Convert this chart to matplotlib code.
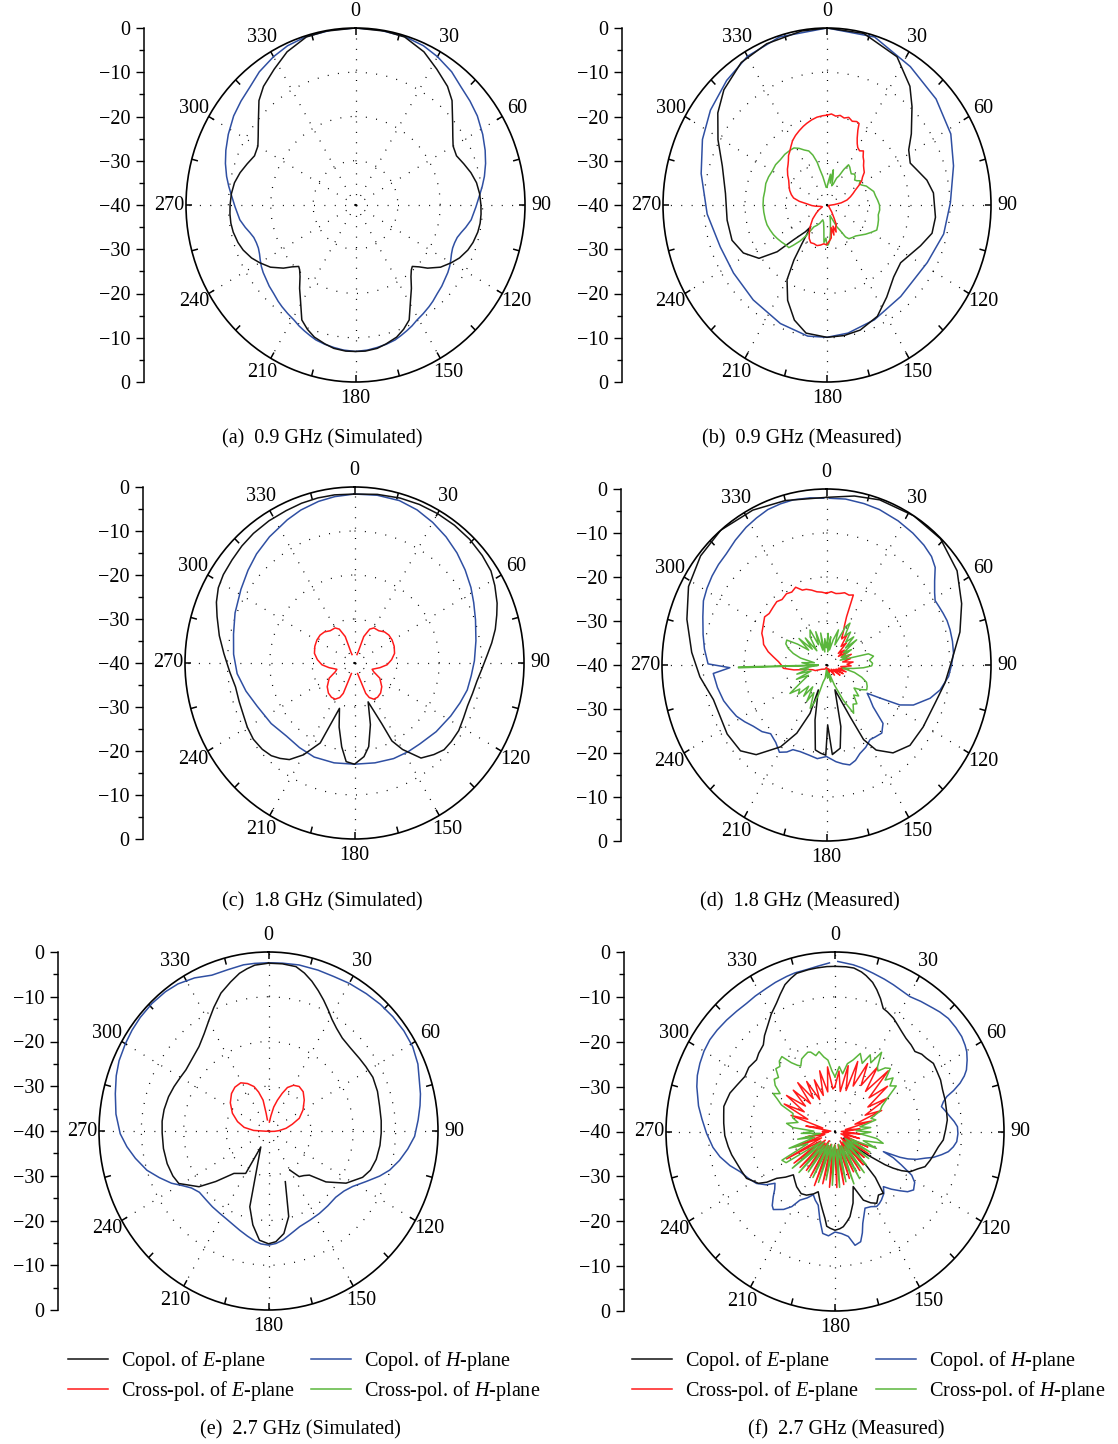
import numpy as np
import matplotlib.pyplot as plt
from matplotlib.lines import Line2D
from matplotlib.ticker import MultipleLocator, FuncFormatter

plt.rcParams['font.family'] = ['Liberation Serif', 'DejaVu Serif']
plt.rcParams['mathtext.fontset'] = 'custom'
plt.rcParams['mathtext.rm'] = 'Liberation Serif'
plt.rcParams['mathtext.it'] = 'Liberation Serif:italic'

BLACK = '#111111'
BLUE = '#2f4fa2'
RED = '#ff1a1a'
GREEN = '#5ab63c'
nan = float('nan')

# ---- data: (angle in degrees, level in dB) ----
# (a) 0.9 GHz simulated
a_e_copol = [(0, 0.0), (10, -0.1), (17, -0.3), (25, -1.8), (32, -3.8), (39, -5.5), (44, -7.2), (51, -10.5),
             (56, -12.3), (60, -13.4), (65, -13.7), (70, -12.8), (75, -11.8), (80, -11.0), (85, -10.6),
             (90, -10.4), (94, -10.3), (98, -10.3), (102, -10.5), (107, -11.0), (111, -11.6), (116, -12.7),
             (120, -13.9), (125, -15.5), (130, -17.8), (133, -19.5), (136, -20.7), (138, -20.3), (141, -19.2),
             (145, -17.0), (149, -14.8), (154, -11.1), (158, -9.7), (162, -8.6), (167, -7.8), (171, -7.2),
             (176, -6.9), (180, -6.9), (184, -6.9), (189, -7.2), (193, -7.8), (198, -8.6), (202, -9.7),
             (206, -11.1), (211, -14.8), (215, -17.0), (219, -19.2), (222, -20.3), (224, -20.7), (227, -19.5),
             (230, -17.8), (235, -15.5), (240, -13.9), (244, -12.7), (249, -11.6), (253, -11.0), (258, -10.5),
             (262, -10.3), (266, -10.3), (270, -10.4), (275, -10.6), (280, -11.0), (285, -11.8), (290, -12.8),
             (295, -13.7), (300, -13.4), (304, -12.3), (309, -10.5), (316, -7.2), (321, -5.5), (328, -3.8),
             (335, -1.8), (343, -0.3), (350, -0.1), (360, 0.0)]
a_h_copol = [(0, 0.0), (8, -0.05), (17, -0.2), (24, -0.6), (30, -1.3), (37, -2.3), (43, -3.5), (49, -4.2),
             (55, -4.9), (62, -6.0), (68, -7.0), (73, -7.9), (78, -8.9), (82, -9.8), (86, -10.7), (91, -11.6),
             (97, -12.5), (101, -13.5), (104, -14.3), (107, -14.9), (110, -15.1), (113, -15.1), (116, -14.8),
             (119, -14.3), (122, -13.8), (125, -13.4), (129, -13.0), (132, -12.6), (136, -12.2), (140, -11.6),
             (143, -11.2), (147, -10.7), (151, -10.2), (154, -9.6), (157, -9.1), (160, -8.6), (163, -8.1),
             (167, -7.7), (171, -7.4), (175, -7.1), (180, -6.9), (185, -7.1), (189, -7.4), (193, -7.7),
             (197, -8.1), (200, -8.6), (203, -9.1), (206, -9.6), (209, -10.2), (213, -10.7), (217, -11.2),
             (220, -11.6), (224, -12.2), (228, -12.6), (231, -13.0), (235, -13.4), (238, -13.8), (241, -14.3),
             (244, -14.8), (247, -15.1), (250, -15.1), (253, -14.9), (256, -14.3), (259, -13.5), (263, -12.5),
             (269, -11.6), (274, -10.7), (278, -9.8), (282, -8.9), (287, -7.9), (292, -7.0), (298, -6.0),
             (305, -4.9), (311, -4.2), (317, -3.5), (323, -2.3), (330, -1.3), (336, -0.6), (343, -0.2),
             (352, -0.05), (360, 0.0)]

# (b) 0.9 GHz measured
b_e_copol = [(0, 0.0), (13, -0.2), (27, -2.4), (37, -6.4), (43, -9.6), (52, -13.9), (58, -16.5), (65, -17.6),
             (70, -16.7), (77, -15.0), (84, -13.9), (96, -13.4), (104, -13.6), (112, -15.4), (120, -17.0),
             (126, -17.8), (135, -17.0), (145, -14.6), (154, -12.0), (164, -10.6), (172, -10.2), (180, -10.1),
             (190, -10.6), (197, -12.8), (204, -16.4), (210, -20.5), (213, -25.2), (215, -29.4), (219, -33.7),
             (221, -32.0), (226, -28.7), (229, -23.9), (234, -19.5), (242, -16.9), (251, -15.5), (262, -15.4),
             (276, -15.1), (289, -13.0), (299, -9.6), (308, -6.2), (316, -3.8), (327, -1.6), (338, -0.7),
             (351, -0.2), (360, 0.0)]
b_h_copol = [(0, 0.0), (17, -0.3), (33, -2.7), (48, -4.2), (62, -5.8), (74, -7.9), (89, -9.9), (103, -10.8),
             (118, -12.3), (128, -12.9), (139, -12.6), (156, -11.6), (170, -10.6), (180, -10.1), (189, -10.0),
             (203, -10.9), (220, -12.0), (236, -12.5), (250, -12.3), (266, -10.7), (283, -8.5), (296, -6.2),
             (307, -4.4), (319, -2.7), (330, -1.2), (343, -0.3), (360, 0.0)]
b_e_xpol = [(0, -19.7), (3, -19.4), (6, -19.8), (9, -19.5), (12, -19.9), (15, -19.5), (18, -20.1), (21, -19.8),
            (23, -20.0), (24, -21.5), (26, -23.2), (28, -24.3), (30, -25.0), (33, -25.4), (36, -24.9), (39, -26.0),
            (42, -26.6), (45, -27.4), (48, -27.9), (51, -28.3), (54, -29.3), (57, -29.9), (60, -30.9), (64, -32.3),
            (68, -33.2), (72, -34.0), (77, -35.0), (82, -36.5), (87, -38.2), (95, -39.3), (110, -39.6),
            (125, -39.5), (138, -39.0), (144, -38.0), (147, -37.5), (150, -36.5), (153, -35.0), (157, -34.6),
            (160, -33.5), (163, -35.0), (166, -33.0), (169, -34.8), (172, -32.5), (175, -32.0), (178, -31.5),
            (181, -31.0), (185, -31.2), (190, -30.8), (195, -30.5), (200, -30.7), (205, -30.6), (210, -31.3),
            (215, -32.5), (220, -33.6), (228, -35.3), (235, -36.8), (241, -37.7), (250, -38.8), (258, -38.5),
            (264, -37.3), (268, -36.3), (273, -35.1), (277, -33.2), (281, -31.7), (285, -31.0), (290, -30.3),
            (295, -29.8), (301, -29.1), (305, -28.3), (310, -27.4), (314, -26.8), (317, -26.2), (320, -25.4),
            (323, -24.9), (326, -24.2), (330, -23.2), (334, -22.5), (338, -21.9), (342, -21.3), (345, -20.9),
            (349, -20.4), (353, -20.0), (357, -19.8), (360, -19.7)]
b_h_xpol = [(0, -36.0), (4, -34.5), (7, -33.0), (9, -35.0), (11, -31.9), (13, -33.5), (15, -35.5), (18, -35.0),
            (21, -33.5), (24, -32.8), (27, -31.0), (30, -29.5), (33, -29.8), (36, -30.3), (40, -30.8), (44, -30.3),
            (47, -30.6), (50, -31.2), (53, -30.9), (56, -30.2), (59, -30.8), (62, -30.4), (66, -29.5), (70, -29.0),
            (75, -28.2), (80, -28.0), (85, -27.6), (90, -27.2), (95, -27.1), (100, -27.3), (105, -27.0),
            (110, -26.8), (115, -26.6), (120, -27.6), (125, -28.5), (130, -29.4), (135, -30.1), (140, -30.4),
            (145, -30.7), (148, -31.5), (151, -33.5), (154, -34.5), (158, -36.5), (163, -37.5), (168, -36.0),
            (172, -34.0), (175, -32.0), (178, -31.0), (180, -30.9), (182, -32.5), (185, -31.5), (188, -34.5),
            (192, -36.0), (197, -36.5), (203, -35.5), (208, -34.8), (213, -34.1), (216, -31.5), (219, -29.5),
            (222, -27.8), (224, -26.6), (228, -26.5), (233, -26.1), (238, -25.7), (243, -25.3), (248, -25.0),
            (253, -24.7), (258, -24.6), (264, -24.5), (270, -24.4), (276, -24.4), (282, -24.5), (288, -24.3),
            (294, -24.4), (300, -24.6), (306, -24.5), (312, -24.7), (318, -24.6), (324, -24.7), (328, -24.8),
            (332, -25.5), (336, -26.4), (340, -27.0), (343, -28.2), (346, -30.0), (348, -31.9), (351, -33.5),
            (354, -35.0), (357, -36.0), (360, -36.0)]

# (c) 1.8 GHz simulated
c_e_copol = [(0, -1.6), (8, -1.3), (16, -1.0), (23, -0.85), (30, -0.8), (37, -0.8), (44, -0.9), (51, -1.2),
             (57, -1.6), (62, -2.5), (68, -3.7), (72, -4.7), (77, -5.9), (82, -7.3), (87, -8.7), (92, -9.8),
             (98, -10.8), (104, -11.3), (110, -11.6), (116, -11.4), (122, -11.0), (128, -11.0), (133, -11.1),
             (138, -12.0), (144, -13.3), (150, -17.3), (153.5, -20.2), (155, -24.8), (160, -30.6), (165, -25.5),
             (170, -20.7), (174, -18.6), (180, -17.0), (185, -17.5), (189, -20.7), (194, -25.0), (199, -29.1),
             (204, -20.1), (210, -15.9), (215, -13.2), (219, -12.1), (223, -11.2), (228, -10.7), (234, -10.5),
             (240, -10.8), (245, -11.2), (252, -11.4), (259, -11.4), (266, -10.5), (274, -9.1), (281, -7.5),
             (288, -5.9), (293, -4.6), (298, -3.6), (303, -3.1), (309, -2.8), (315, -2.4), (321, -2.1),
             (328, -1.9), (335, -1.8), (341, -1.6), (347, -1.5), (353, -1.5), (360, -1.6)]
c_h_copol = [(0, -1.6), (8, -1.5), (16, -1.6), (23, -2.2), (30, -3.1), (37, -4.1), (44, -5.2), (51, -6.4),
             (58, -7.6), (64, -8.7), (71, -9.8), (80, -10.9), (89, -11.7), (96, -12.3), (103, -12.7),
             (110, -13.5), (118, -14.3), (129, -15.2), (140, -16.0), (148, -16.2), (157, -16.4), (168, -16.8),
             (180, -17.0), (192, -16.8), (204, -16.6), (214, -16.8), (224, -16.9), (235, -16.0), (247, -15.0),
             (256, -13.6), (265, -12.2), (274, -11.4), (283, -10.7), (292, -9.6), (302, -8.4), (310, -7.2),
             (317, -6.1), (325, -5.0), (334, -3.8), (340, -3.0), (347, -2.3), (353, -1.9), (360, -1.6)]
c_e_xpol = [(0, nan), (17, -38.0), (18.7, -37.5), (20, -33.6), (25, -31.5), (30, -30.8), (38, -30.7),
            (45, -30.0), (52, -29.7), (59.5, -29.7), (68, -29.9), (77, -30.3), (85, -31.2), (93, -32.3),
            (100, -33.9), (109, -35.6), (114, -35.0), (120, -33.1), (130, -31.6), (138, -30.8), (145, -30.5),
            (151, -30.6), (156, -31.4), (159, -32.6), (161.6, -36.7), (163, -37.5), (180, nan), (197, -37.5),
            (198.4, -36.7), (201, -32.6), (204, -31.4), (209, -30.6), (215, -30.5), (222, -30.8), (230, -31.6),
            (240, -33.1), (246, -35.0), (251, -35.6), (260, -33.9), (267, -32.3), (275, -31.2), (283, -30.3),
            (292, -29.9), (300.5, -29.7), (308, -29.7), (315, -30.0), (322, -30.7), (330, -30.8), (335, -31.5),
            (340, -33.6), (341.3, -37.5), (343, -38.0), (360, nan)]

# (d) 1.8 GHz measured
d_e_copol = [(0, -1.9), (10, -1.0), (19, -0.3), (32, 0.0), (44, -0.1), (56, -1.7), (67, -4.3), (77, -6.7),
             (88, -9.5), (98, -10.9), (108, -12.2), (121, -12.6), (132, -12.7), (141, -14.3), (148, -17.2),
             (152, -20.8), (154, -26.9), (160, -34.0), (166, -25.6), (170, -20.8), (176, -19.6), (178.8, -26.4),
             (180.5, -19.5), (184, -19.9), (188, -20.5), (192.6, -27.2), (199.4, -34.0), (200, -28.3),
             (205, -22.9), (211, -18.3), (220, -13.4), (227, -11.4), (237, -11.2), (254, -11.4), (265, -9.1),
             (275, -7.1), (287, -4.5), (298, -2.0), (309, -0.6), (320, 0.0), (333, -0.5), (345, -1.3), (360, -1.9)]
d_h_copol = [(1, -2.1), (7, -2.0), (14, -2.2), (20, -2.4), (28, -2.9), (35, -3.4), (41, -3.9), (46, -4.5),
             (50, -5.5), (54, -7.5), (58, -9.0), (61, -9.8), (64, -9.6), (67.5, -9.3), (71, -9.0), (75, -8.9),
             (80, -8.9), (85, -9.0), (90, -9.6), (95, -10.2), (101.6, -11.8), (106.7, -13.7), (110, -15.5),
             (113.3, -17.0), (117, -20.0), (120, -25.0), (123, -28.2), (126, -27.0), (130, -25.2), (134, -20.9),
             (139, -19.5), (144, -19.8), (148, -20.0), (153, -19.0), (158, -18.3), (162, -17.2), (166, -16.6),
             (170, -17.2), (174, -17.9), (180, -19.2), (186, -18.6), (192, -19.1), (198, -19.3), (203, -19.1),
             (206, -18.0), (210, -17.1), (215, -18.5), (221, -19.3), (226, -18.2), (232, -17.4), (237, -16.3),
             (242, -15.2), (247, -14.5), (252, -13.7), (259, -13.0), (266, -12.4), (268.5, -16.5), (270.5, -11.2),
             (277, -10.1), (283, -9.2), (290, -8.0), (296, -6.7), (301, -6.1), (306, -5.6), (311, -5.2),
             (316, -4.9), (322, -4.0), (328, -3.1), (333, -2.5), (338, -1.9), (343, -1.7), (348, -1.6),
             (354, -1.8), (359, -2.1)]
d_e_xpol = [(0, -23.7), (4, -23.3), (8, -23.6), (11.4, -23.4), (15, -23.0), (19, -23.2), (22.3, -22.8),
            (24, -28.0), (26, -30.0), (28.4, -31.4), (32, -33.0), (36, -31.5), (40, -34.5), (44, -33.0),
            (47.5, -36.1), (52, -34.5), (56, -36.5), (60, -34.0), (64, -36.0), (68, -33.5), (72, -35.5),
            (76, -34.0), (80, -36.0), (84, -33.5), (88, -35.0), (92, -34.0), (96, -36.5), (100, -34.5),
            (104, -37.0), (108, -35.0), (112, -37.5), (116, -35.5), (120, -38.0), (125, -36.0), (130, -38.5),
            (140, -37.0), (150, -39.0), (160, -38.0), (180, -39.5), (200, -39.0), (230, -38.5), (245, -37.0),
            (252, -36.5), (258, -35.1), (262, -32.0), (265.9, -29.5), (270, -29.0), (273.7, -28.3), (278, -27.0),
            (282, -25.5), (287, -24.0), (291, -23.5), (294.6, -22.7), (300, -22.2), (306, -21.4), (310, -21.8),
            (315.7, -21.5), (320, -21.2), (324, -21.6), (329, -21.1), (333, -21.4), (337, -20.8), (341, -22.0),
            (344, -22.1), (348, -22.6), (352, -23.2), (356, -23.4), (360, -23.7)]
d_h_xpol = [(0, -36.0), (3, -32.8), (6, -37.0), (9, -33.5), (12, -36.5), (16, -34.0), (20, -31.5), (24, -35.0),
            (28, -30.2), (31, -28.9), (34, -32.0), (38, -30.5), (42, -33.0), (46, -30.8), (50, -34.0),
            (52, -30.7), (56, -35.0), (60, -33.0), (64, -36.0), (68, -34.0), (72, -36.5), (76, -29.5),
            (80, -28.4), (84, -29.5), (88, -28.8), (91, -29.0), (94, -31.0), (97, -33.5), (100, -36.0),
            (104, -33.0), (108, -31.0), (112, -29.5), (116, -29.0), (120, -28.7), (124, -30.0), (128, -31.5),
            (132, -29.5), (136, -30.5), (140, -28.5), (144, -29.0), (149, -27.2), (153, -31.0), (157, -35.0),
            (161, -38.0), (165, -36.0), (170, -38.5), (175, -37.0), (180, -39.0), (186, -37.0), (192, -36.0),
            (196, -33.0), (199, -31.0), (202, -29.4), (206, -33.0), (210, -30.5), (214, -34.0), (218, -31.0),
            (222, -33.5), (226, -30.5), (230, -31.5), (234, -29.0), (238, -33.0), (242, -35.0), (246, -32.0),
            (250, -36.0), (254, -32.5), (258, -35.5), (262, -33.5), (266, -37.0), (267.8, -38.0), (268.3, -18.6),
            (268.8, -18.6), (269.5, -38.0), (271, -36.0), (275, -34.0), (280, -37.0), (284, -33.5), (288, -31.5),
            (292, -30.0), (296, -29.0), (300.4, -28.8), (304, -31.5), (308, -34.5), (312, -31.0), (316, -35.0),
            (320, -32.0), (324, -36.0), (328, -32.5), (333.3, -31.1), (337, -35.0), (341, -32.0), (345, -36.5),
            (349, -32.6), (352, -37.0), (356, -34.0), (360, -36.0)]

# (e) 2.7 GHz simulated
e_e_copol = [(0, -2.5), (5, -2.5), (10, -2.7), (13.5, -3.7), (17, -5.0), (20.5, -6.5), (24, -8.0), (27.5, -9.5),
             (31, -10.9), (35, -12.0), (40, -12.9), (46, -13.2), (53, -13.1), (58, -12.9), (64, -12.6),
             (71, -12.8), (78, -13.2), (85, -13.3), (91, -13.4), (97, -13.5), (104, -13.8), (110, -14.4),
             (115, -15.5), (122.5, -18.3), (130, -22.3), (135.6, -26.2), (140, -27.0), (144.6, -27.5),
             (150, -29.9), (155, nan), (160.7, -28.0), (166, -20.3), (171, -16.8), (176, -15.2), (180, -14.8),
             (185, -15.5), (190, -18.7), (194.6, -22.5), (207, -36.0), (209.6, -29.1), (220.7, -27.5),
             (227.8, -23.2), (232.8, -19.4), (241, -15.8), (246, -15.3), (253, -15.0), (261, -14.9), (269, -14.9),
             (275, -14.8), (281, -14.9), (288, -15.2), (294, -15.6), (300, -16.0), (305, -16.2), (312, -15.8),
             (319, -15.0), (325, -13.5), (330.5, -11.5), (335, -9.5), (340, -7.2), (345, -5.5), (349, -4.1),
             (352, -3.4), (355, -2.8), (360, -2.5)]
e_h_copol = [(0, -2.4), (5, -2.35), (11, -2.2), (18, -2.2), (24, -2.2), (30, -1.9), (37, -1.6), (43, -1.3),
             (49, -1.1), (55, -1.0), (61, -1.1), (67, -1.7), (72, -2.6), (77, -3.2), (81, -3.8), (86, -4.6),
             (92, -5.5), (97, -6.9), (102, -8.4), (107, -10.1), (111, -11.9), (116, -14.3), (122, -16.6),
             (127, -17.7), (133, -18.3), (140, -18.2), (147, -18.0), (154, -17.8), (161, -17.4), (165, -16.8),
             (172, -15.4), (176, -14.8), (180, -14.5), (184, -14.7), (187, -15.1), (192, -16.0), (197, -16.8),
             (202, -17.5), (207, -18.0), (212, -18.3), (218, -18.5), (224, -18.7), (230, -18.7), (235, -17.8),
             (239, -16.3), (243, -14.3), (248, -12.2), (253, -10.0), (259, -8.0), (264, -6.4), (269, -5.0),
             (276, -3.8), (283, -2.9), (289, -2.0), (294, -1.4), (300, -1.0), (305, -0.7), (310, -0.5),
             (316, -0.4), (322, -0.5), (327, -0.8), (333, -1.6), (339, -2.7), (345, -2.7), (351, -2.4),
             (355, -2.4), (360, -2.4)]
e_e_xpol = [(0, nan), (6, -38.0), (9.5, -36.6), (13, -34.5), (17, -32.8), (21, -31.0), (24.7, -29.3),
            (30, -28.2), (36, -27.7), (43, -28.0), (50.7, -29.1), (60, -30.6), (68.6, -32.2), (75, -34.2),
            (81.7, -35.8), (88, -37.5), (93, -38.6), (100, -39.5), (180, -40.0), (260, -39.8), (265, -39.4),
            (272, -36.5), (278, -34.2), (286, -32.4), (295, -30.6), (305, -29.0), (313.8, -27.9), (321, -27.4),
            (328.7, -27.4), (335, -28.3), (341, -29.5), (345, -31.0), (349.5, -33.0), (352, -36.0),
            (354, -37.5), (360, nan)]

# (f) 2.7 GHz measured
f_e_copol = [(0, -3.2), (4, -3.2), (7, -3.3), (10, -3.9), (12, -4.5), (15, -5.6), (17.4, -6.9), (20, -8.5),
             (22.6, -10.3), (25, -10.6), (28.7, -11.2), (32, -12.0), (35.3, -12.7), (39, -13.3), (43, -13.6),
             (46.7, -14.0), (50, -13.2), (53, -12.9), (56.9, -12.2), (61, -12.4), (65.3, -12.5), (70, -12.9),
             (74.9, -13.0), (80, -13.2), (84.5, -13.3), (89, -13.8), (94.2, -14.3), (98, -15.3), (102.7, -16.1),
             (106, -16.6), (110.2, -17.3), (113, -18.7), (116.8, -20.1), (119, -22.0), (120.7, -24.0),
             (122, -26.0), (122.8, -28.2), (124, -30.5), (124.8, -32.8), (128, -37.5), (133, -33.0), (137, -26.0),
             (140.3, -22.1), (144, -22.5), (148.3, -21.2), (152, -22.0), (156.3, -23.3), (160.7, -27.0),
             (165, -23.5), (169.4, -20.7), (172, -19.7), (174.7, -18.7), (177, -18.3), (180, -18.0), (183, -18.4),
             (185.3, -18.8), (187, -20.5), (189.5, -22.2), (193, -24.2), (196.5, -26.0), (200, -25.2),
             (205.4, -24.3), (210, -24.0), (216.4, -24.7), (221, -25.5), (225.6, -26.2), (229, -24.5),
             (232.9, -22.7), (235, -20.3), (237.5, -18.5), (240, -17.8), (243.5, -16.6), (248, -16.2),
             (253.1, -15.7), (258, -15.0), (262.4, -14.5), (268, -13.9), (274, -13.6), (278, -13.4), (282, -13.1),
             (285, -13.4), (289, -13.7), (294, -14.6), (299.9, -15.4), (305, -15.1), (310.7, -15.5), (314, -14.9),
             (318.7, -14.3), (322, -12.9), (326.8, -11.2), (330, -9.8), (334.2, -8.2), (337, -6.8), (340.1, -5.2),
             (343, -4.3), (345.6, -3.6), (350, -3.4), (353.2, -3.3), (357, -3.2), (360, -3.2)]
f_h_copol = [(1, -2.1), (6.6, -2.6), (10, -3.0), (14.4, -3.6), (19, -4.1), (22.9, -4.5), (27, -4.9), (30.6, -5.1),
             (35, -4.6), (40.3, -4.0), (43, -3.6), (46.8, -3.2), (51, -3.2), (54.8, -3.3), (58, -3.7), (60.3, -4.1),
             (63, -4.9), (66.2, -6.0), (68, -7.0), (70, -8.5), (72, -10.5), (73.6, -12.4), (75.5, -13.5),
             (77.6, -14.2), (80, -13.5), (83, -12.6), (85.5, -11.7), (87.9, -11.0), (91, -10.9), (94.5, -11.1),
             (97, -11.8), (99.5, -12.8), (101.5, -14.2), (103.9, -16.0), (105.5, -17.8), (107.8, -19.7),
             (109.5, -21.7), (110.5, -23.6), (111.4, -27.7), (113, -25.0), (115.4, -22.6), (118.2, -19.4),
             (121, -18.0), (125, -17.3), (128, -18.2), (130.6, -19.7), (134, -21.5), (137, -23.2), (140, -22.0),
             (144.2, -21.2), (147, -20.8), (149.5, -20.6), (153, -21.2), (157.4, -21.5), (160, -20.0),
             (162.2, -18.5), (164, -16.5), (166.1, -14.7), (169.4, -14.2), (172.3, -16.4), (176.1, -17.2),
             (180, -17.6), (183.8, -16.7), (187.3, -17.1), (190.2, -19.9), (193.6, -23.1), (197, -24.0),
             (200, -25.0), (204, -23.8), (208.5, -22.6), (211.4, -20.4), (215, -18.8), (220, -17.3), (222, -17.8),
             (225.2, -19.4), (228, -20.8), (230.9, -21.7), (234, -19.8), (238.1, -18.1), (243, -17.0),
             (248.3, -15.8), (253, -14.0), (258.3, -12.2), (263, -10.9), (269.2, -9.6), (275, -8.4), (280, -7.2),
             (287, -5.8), (291, -5.1), (295.4, -4.6), (300, -4.2), (304.6, -4.0), (309, -4.1), (314.1, -4.3),
             (319, -4.5), (323.8, -4.6), (328, -4.4), (333, -4.2), (337, -3.9), (341.7, -3.6), (345, -3.4),
             (349.5, -3.3), (354, -2.9), (358, -2.4)]
f_e_xpol = [(0, -30), (4, -26.5), (8, -31), (12, -25), (16, -30.5), (19, -23.5), (23, -29), (27, -23),
            (31, -28), (35, -22.5), (39, -28.5), (43, -21.5), (47, -29), (51, -24), (55, -30.5), (59, -25.5),
            (63, -32), (67, -28), (71, -35), (75, -31), (80, -37.5), (85, -34), (90, -38.5), (95, -33.5),
            (100, -38), (105, -34), (110, -38.5), (114, -31.5), (118, -37.5), (122, -30.5), (126, -37),
            (130, -31), (134, -38), (138, -30), (142, -37), (146, -29.5), (150, -37.5), (154, -30), (158, -36.5),
            (162, -29), (166, -37), (170, -28), (174, -36), (178, -27.5), (182, -37), (186, -27.5), (190, -36),
            (194, -28), (198, -37), (202, -27), (206, -36.5), (210, -28.5), (214, -37.5), (218, -29),
            (222, -36.5), (226, -28.5), (230, -37), (234, -28), (238, -36), (242, -27), (246, -36.5), (250, -30),
            (255, -37.5), (260, -33), (265, -38.5), (270, -37), (275, -39), (280, -33), (285, -37), (289, -29),
            (293, -33), (297, -26.5), (301, -31.5), (305, -26), (309, -31), (313, -26.5), (317, -31.5), (321, -26),
            (325, -31), (329, -27), (333, -32), (337, -27.5), (341, -31.5), (345, -26), (349, -31), (353, -25.5),
            (357, -30.5), (360, -30)]
f_h_xpol = [(0, -27.8), (4, -25.5), (8, -27), (11, -24.6), (15, -23.5), (19, -21.6), (23, -23.5), (26, -21),
            (29, -22.5), (32, -19.2), (35, -22.5), (37, -23.1), (40, -21.5), (43, -20.8), (46, -23.5),
            (49, -21.8), (52, -23.5), (55, -22.3), (59, -25.5), (63, -27.5), (67, -28.5), (71, -31), (75, -30),
            (80, -34), (84, -31.5), (88, -35), (91, -31.5), (95, -34), (99, -30), (103, -28.3), (107, -33),
            (111, -29.5), (115, -36), (119, -30.5), (123, -37), (127, -30), (131, -36.5), (135, -29.5),
            (139, -37), (143, -28.5), (147, -36), (151, -28), (155, -36.5), (159, -27.5), (163, -37),
            (167, -28.5), (171, -36), (175, -27.5), (179, -37), (183, -28), (187, -36.5), (191, -29),
            (195, -37), (199, -28), (203, -36.5), (207, -28.5), (211, -37), (215, -29), (219, -36), (223, -27.5),
            (227, -36.5), (231, -27), (235, -36), (239, -26.5), (243, -25.9), (247, -33), (251, -28.5),
            (255, -35), (259, -31), (263, -36.5), (267, -32), (271, -35), (275, -30), (279, -28.4), (283, -31),
            (287, -29.5), (292, -29.3), (295, -26), (298, -24.5), (300, -23.1), (303, -24.5), (306, -22.5),
            (309, -21.5), (312, -22), (315, -20.2), (318, -20.5), (320, -19.5), (323, -19.1), (326, -21.5),
            (329, -22.8), (331, -23.3), (334, -22), (337, -21.6), (340, -21.2), (342, -21.4), (345, -22.5),
            (348, -21.8), (351, -23.2), (354, -24), (357, -26.5), (360, -27.8)]

theta_labels = [str(a) for a in range(0, 360, 30)]
captions = ['(a)  0.9 GHz (Simulated)', '(b)  0.9 GHz (Measured)', '(c)  1.8 GHz (Simulated)',
            '(d)  1.8 GHz (Measured)', '(e)  2.7 GHz (Simulated)', '(f)  2.7 GHz (Measured)']
legend_labels = ['Copol. of $E$-plane', 'Cross-pol. of $E$-plane', 'Copol. of $H$-plane', 'Cross-pol. of $H$-plane']

W, H = 1118, 1444
fig = plt.figure(figsize=(W / 100, H / 100), dpi=100)


def rect(l, t, r, b):
    return [l / W, 1 - b / H, (r - l) / W, (b - t) / H]


def panel(box, axis_x, curves, caption, cap_xy):
    l, t, r, b = box
    ax = fig.add_axes(rect(l, t, r, b), projection='polar')
    ax.set_aspect('auto')
    ax.set_theta_zero_location('N')
    ax.set_theta_direction(-1)
    ax.set_ylim(-40, 0)
    ax.set_yticks([-30, -20, -10])
    ax.set_yticklabels([])
    ax.set_xticks(np.deg2rad(np.arange(0, 360, 30)))
    ax.set_xticklabels(theta_labels, fontsize=14.5)
    ax.tick_params(axis='x', which='major', length=0, pad=5)
    ax.tick_params(axis='y', length=0)
    ax.grid(True, which='major', color='black', lw=0.9, linestyle=(0, (0.8, 7.5)))
    ax.spines['polar'].set_linewidth(1.2)
    # inward tick marks on the rim every 15 degrees
    for deg in range(0, 360, 15):
        ax.plot([np.deg2rad(deg)] * 2, [-1.5, 0], color='black', lw=1.1, solid_capstyle='butt')
    for data, color in curves:
        ang, db = np.array(data, dtype=float).T
        ax.plot(np.deg2rad(ang), db, color=color, lw=1.1)
    ax.set_ylim(-40, 0)

    # side dB scale
    s = fig.add_axes(rect(axis_x, t, axis_x + 2, b))
    s.set_ylim(-40, 40)
    s.set_xticks([])
    for sp in ('top', 'right', 'bottom'):
        s.spines[sp].set_visible(False)
    s.spines['left'].set_linewidth(1.1)
    s.patch.set_alpha(0)
    s.yaxis.set_major_locator(MultipleLocator(10))
    s.yaxis.set_minor_locator(MultipleLocator(5))
    s.yaxis.set_major_formatter(FuncFormatter(lambda v, _: f'{abs(v) - 40:.0f}'.replace('-', '\u2212')))
    s.tick_params(axis='y', which='major', length=6, width=1, labelsize=14.5, pad=4)
    s.tick_params(axis='y', which='minor', length=3.5, width=1)

    fig.text(cap_xy[0] / W, 1 - cap_xy[1] / H, caption, ha='center', va='center', fontsize=14.5)
    return ax


panel((186, 28, 525, 382), 144, [(a_h_copol, BLUE), (a_e_copol, BLACK)], captions[0], (322, 439))
panel((663, 28, 991, 382), 622, [(b_h_copol, BLUE), (b_e_copol, BLACK), (b_h_xpol, GREEN), (b_e_xpol, RED)],
      captions[1], (802, 439))
panel((185, 487, 524, 839), 143, [(c_h_copol, BLUE), (c_e_copol, BLACK), (c_e_xpol, RED)], captions[2], (322, 902))
panel((662, 489, 991, 841), 621, [(d_h_copol, BLUE), (d_e_copol, BLACK), (d_e_xpol, RED), (d_h_xpol, GREEN)],
      captions[3], (800, 902))
panel((99, 952, 438, 1310), 58, [(e_h_copol, BLUE), (e_e_copol, BLACK), (e_e_xpol, RED)], captions[4], (300, 1430))
panel((666, 952, 1004, 1311), 624, [(f_h_copol, BLUE), (f_e_copol, BLACK), (f_e_xpol, RED), (f_h_xpol, GREEN)],
      captions[5], (846, 1430))

# legends under panels (e) and (f), two columns each
colors = [BLACK, RED, BLUE, GREEN]
for x0, x1 in [(68, 311), (632, 876)]:
    for col, xx in enumerate((x0, x1)):
        handles = [Line2D([], [], color=colors[2 * col + i], lw=1.1) for i in range(2)]
        fig.legend(handles, legend_labels[2 * col:2 * col + 2], loc='upper left',
                   bbox_to_anchor=(xx / W, 1 - 1349 / H), frameon=False, borderpad=0, borderaxespad=0,
                   handlelength=2.0, handletextpad=0.65, labelspacing=0.3, fontsize=14.5)

fig.savefig('out.png', dpi=100)
